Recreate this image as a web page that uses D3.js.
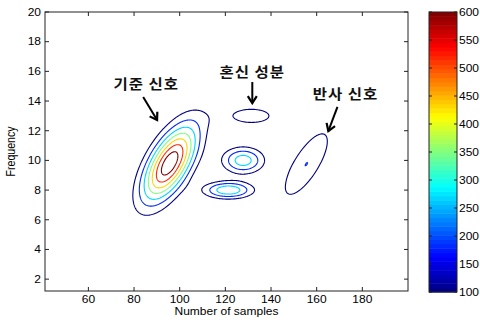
<!DOCTYPE html>
<html><head><meta charset="utf-8">
<script src="https://cdn.jsdelivr.net/npm/d3@7"></script>
<style>
body{margin:0;background:#fff}
text{font-family:"Liberation Sans",Arial,Helvetica,sans-serif;fill:#000}
</style>
</head><body>
<svg id="c" width="480" height="324"></svg>
<script>
// ---- data ----
const xTicks = [60, 80, 100, 120, 140, 160, 180];
const yTicks = [2, 4, 6, 8, 10, 12, 14, 16, 18, 20];
const cbTicks = [100, 150, 200, 250, 300, 350, 400, 450, 500, 550, 600];
const levels = [100, 183.3, 266.7, 350, 433.3, 516.7, 600];
// signal components (time-frequency energy blobs)
const blobX    = [95.6, 131.4, 127.8, 121.3, 155.5];
const blobY    = [9.8, 13.0, 10.0, 8.0, 9.75];
const blobPeak = [660, 125, 313, 338, 183.7];
const blobSX   = [8.3, 11.5, 6.2, 7.3, 8.3];
const blobSY   = [1.80, 0.66, 0.60, 0.39, 1.84];
const blobRho  = [0.62, 0, 0, 0, 0.754];
// annotations
const noteText  = ["기준 신호", "혼신 성분", "반사 신호"];
const noteX     = [85.3, 131.8, 172.6];
const noteY     = [14.8, 15.62, 14.13];
const arrowX1   = [84.0, 131.8, 169.1];
const arrowY1   = [14.27, 15.28, 13.6];
const arrowX2   = [90.1, 131.8, 165.1];
const arrowY2   = [12.72, 13.86, 11.98];

// ---- layout ----
const svg = d3.select("#c");
const L = 45, R = 408, T = 12, B = 291;
const x = d3.scaleLinear().domain([41, 200]).range([L, R]);
const y = d3.scaleLinear().domain([1.2, 20]).range([B, T]);
const cbL = 429, cbR = 457;
const cy = d3.scaleLinear().domain([100, 600]).range([292, 12]);
const SQ = 0.88;

function jet(t) {
  const c = v => Math.max(0, Math.min(1, v));
  return d3.rgb(255 * c(1.5 - Math.abs(4 * t - 3)), 255 * c(1.5 - Math.abs(4 * t - 2)), 255 * c(1.5 - Math.abs(4 * t - 1))).toString();
}

// ---- field ----
const gx0 = 41, gy0 = 1.2, gdx = 0.4, gdy = 0.05;
const nx = Math.round((200 - gx0) / gdx) + 1, ny = Math.round((20 - gy0) / gdy) + 1;
const values = new Float64Array(nx * ny);
for (let j = 0; j < ny; j++) {
  const yy = gy0 + j * gdy;
  for (let i = 0; i < nx; i++) {
    const xx = gx0 + i * gdx;
    let v = 0;
    for (let k = 0; k < blobX.length; k++) {
      const dx = (xx - blobX[k]) / blobSX[k], dy = (yy - blobY[k]) / blobSY[k], r = blobRho[k];
      const q = (dx * dx - 2 * r * dx * dy + dy * dy) / (1 - r * r);
      v += blobPeak[k] * Math.exp(-q / 2);
    }
    values[j * nx + i] = v;
  }
}
const contours = d3.contours().size([nx, ny]).thresholds(levels)(values);
const tr = d3.geoTransform({point(px, py) { this.stream.point(x(gx0 + (px - 0.5) * gdx), y(gy0 + (py - 0.5) * gdy)); }});
const path = d3.geoPath(tr);

svg.append("clipPath").attr("id", "clip").append("rect").attr("x", L).attr("y", T).attr("width", R - L).attr("height", B - T);
svg.append("g").attr("clip-path", "url(#clip)")
  .selectAll("path").data(contours).join("path")
  .attr("d", path).attr("fill", "none")
  .attr("stroke", d => jet((d.value - 100) / 500))
  .attr("stroke-width", 1.1).attr("stroke-linejoin", "round");

// ---- axes frame & ticks ----
const ax = svg.append("g");
ax.append("rect").attr("x", L).attr("y", T).attr("width", R - L).attr("height", B - T)
  .attr("fill", "none").attr("stroke", "#222").attr("stroke-width", 1);
const tk = 4;
xTicks.forEach(v => {
  ax.append("line").attr("x1", x(v)).attr("x2", x(v)).attr("y1", B).attr("y2", B - tk).attr("stroke", "#222");
  ax.append("line").attr("x1", x(v)).attr("x2", x(v)).attr("y1", T).attr("y2", T + tk).attr("stroke", "#222");
  ax.append("text").attr("transform", `translate(${x(v)},${303}) scale(1,${SQ})`)
    .attr("text-anchor", "middle").attr("font-size", 12).text(v);
});
yTicks.forEach(v => {
  ax.append("line").attr("x1", L).attr("x2", L + tk).attr("y1", y(v)).attr("y2", y(v)).attr("stroke", "#222");
  ax.append("line").attr("x1", R).attr("x2", R - tk).attr("y1", y(v)).attr("y2", y(v)).attr("stroke", "#222");
  ax.append("text").attr("transform", `translate(${41},${y(v) + 3.8}) scale(1,${SQ})`)
    .attr("text-anchor", "end").attr("font-size", 12).text(v);
});
ax.append("text").attr("transform", `translate(${(L + R) / 2},${315}) scale(1,${SQ})`)
  .attr("text-anchor", "middle").attr("font-size", 12).text("Number of samples");
ax.append("text").attr("transform", `translate(${15},${(T + B) / 2}) scale(1,${SQ}) rotate(-90)`)
  .attr("text-anchor", "middle").attr("font-size", 12).text("Frequency");

// ---- colorbar ----
const cb = svg.append("g");
const nb = 64;
for (let k = 0; k < nb; k++) {
  const v0 = 100 + 500 * k / nb, v1 = 100 + 500 * (k + 1) / nb;
  cb.append("rect").attr("x", cbL).attr("width", cbR - cbL)
    .attr("y", cy(v1)).attr("height", cy(v0) - cy(v1) + 0.5)
    .attr("fill", jet((k + 0.5) / nb));
}
cb.append("rect").attr("x", cbL).attr("y", 12).attr("width", cbR - cbL).attr("height", 280)
  .attr("fill", "none").attr("stroke", "#222");
cbTicks.forEach(v => {
  cb.append("line").attr("x1", cbL).attr("x2", cbL + 3).attr("y1", cy(v)).attr("y2", cy(v)).attr("stroke", "#222");
  cb.append("line").attr("x1", cbR).attr("x2", cbR - 3).attr("y1", cy(v)).attr("y2", cy(v)).attr("stroke", "#222");
  cb.append("text").attr("transform", `translate(${cbR + 2},${cy(v) + 3.8}) scale(1,${SQ})`)
    .attr("font-size", 12).text(v);
});

// ---- annotations ----
const defs = svg.append("defs");
defs.append("marker").attr("id", "ah").attr("viewBox", "-10 -6 12 12")
  .attr("markerWidth", 12).attr("markerHeight", 12).attr("markerUnits", "userSpaceOnUse")
  .attr("orient", "auto").attr("refX", 0).attr("refY", 0)
  .append("path").attr("d", "M-7,-4.5 L0,0 L-7,4.5").attr("fill", "none").attr("stroke", "#000").attr("stroke-width", 2.2);
noteText.forEach((t, i) => {
  svg.append("line").attr("x1", x(arrowX1[i])).attr("y1", y(arrowY1[i]))
    .attr("x2", x(arrowX2[i])).attr("y2", y(arrowY2[i]))
    .attr("stroke", "#000").attr("stroke-width", 2).attr("marker-end", "url(#ah)");
  svg.append("text").attr("transform", `translate(${x(noteX[i])},${y(noteY[i])}) scale(1,${SQ})`)
    .attr("text-anchor", "middle").attr("font-size", 15.5).attr("font-weight", "bold")
    .attr("letter-spacing", 1)
    .style("font-family", '"Noto Sans CJK KR","Noto Sans CJK SC",sans-serif')
    .style("fill", "#111").text(t);
});
</script>
</body></html>
